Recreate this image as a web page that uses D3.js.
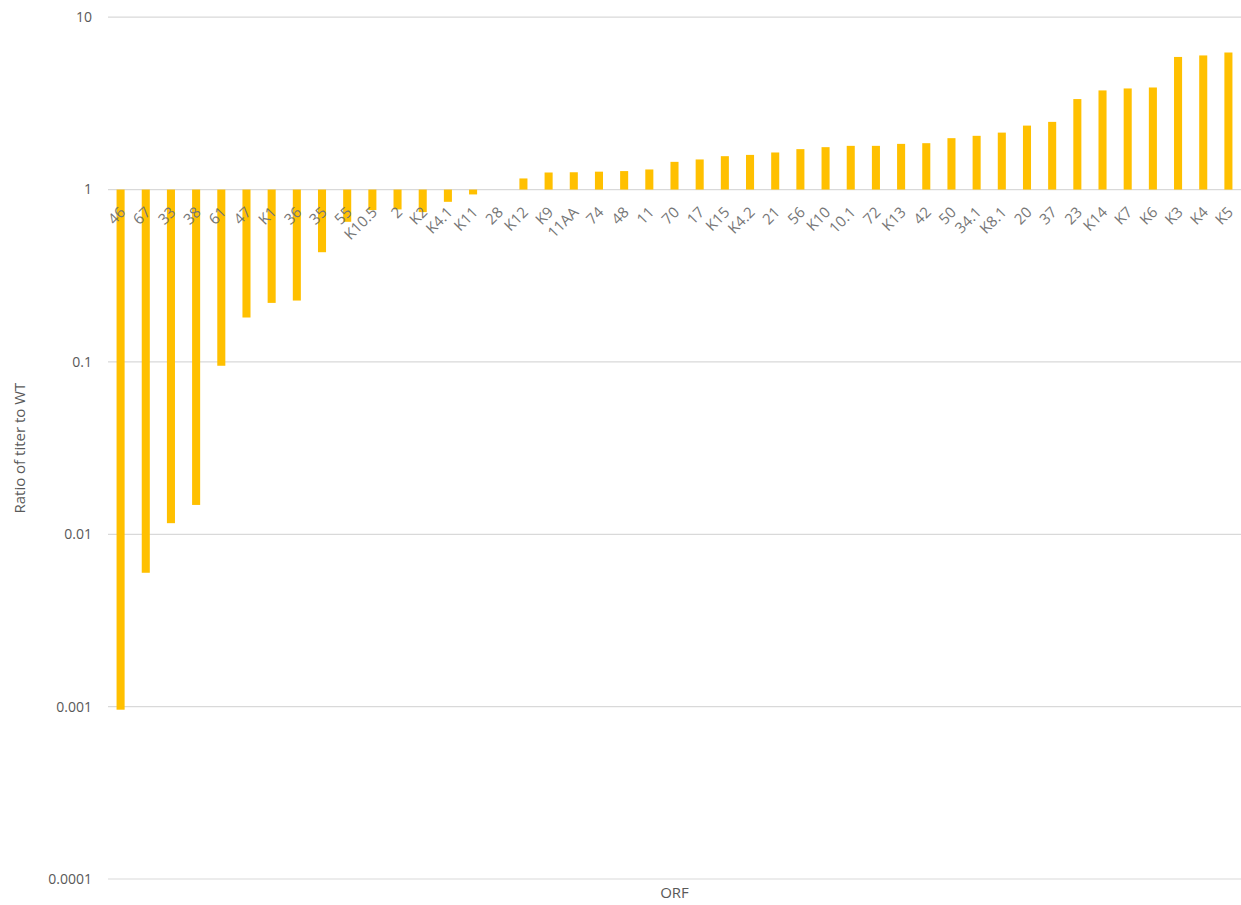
<!DOCTYPE html>
<html>
<head>
<meta charset="utf-8">
<script src="https://cdn.jsdelivr.net/npm/d3@7"></script>
<style>
  body { margin: 0; background: #fff; }
  .font { font-family: "Open Sans", "Liberation Sans", sans-serif; fill: #595959; }
  .tick-label { font-size: 14px; }
  .cat-label { font-size: 15px; fill: #767676; }
  .axis-title { font-size: 15px; }
</style>
</head>
<body>
<svg id="chart" width="1241" height="905"></svg>
<script>
// titer ratio to WT per ORF
const CATEGORIES = ["46", "67", "33", "38", "61", "47", "K1", "36", "35", "55",
    "K10.5", "2", "K2", "K4.1", "K11", "28", "K12", "K9", "11AA", "74",
    "48", "11", "70", "17", "K15", "K4.2", "21", "56", "K10", "10.1",
    "72", "K13", "42", "50", "34.1", "K8.1", "20", "37", "23", "K14",
    "K7", "K6", "K3", "K4", "K5"];
const RATIOS = [0.00096, 0.00598, 0.0116, 0.0148, 0.095, 0.181, 0.220, 0.227, 0.433, 0.65,
    0.76, 0.767, 0.74, 0.849, 0.937, 1.0, 1.16, 1.256, 1.26, 1.27,
    1.28, 1.308, 1.448, 1.495, 1.562, 1.589, 1.641, 1.716, 1.762, 1.793,
    1.793, 1.841, 1.858, 1.987, 2.05, 2.14, 2.35, 2.47, 3.35, 3.76,
    3.86, 3.91, 5.88, 6.0, 6.24];
const Y_TICKS = [0.0001, 0.001, 0.01, 0.1, 1, 10];
const Y_TICK_LABELS = ["0.0001", "0.001", "0.01", "0.1", "1", "10"];

const PLOT_LEFT = 108;
const PLOT_RIGHT = 1241;
const PLOT_TOP = 17.2;
const PLOT_BOTTOM = 879;
const BAR_COLOR = "#FFC000";
const GRID_COLOR = "#d9d9d9";
const BASE_VALUE = 1;

var svg = d3.select("#chart");

var xScale = d3.scaleBand()
    .domain(CATEGORIES)
    .range([PLOT_LEFT, PLOT_RIGHT])
    .paddingInner(0.68)
    .paddingOuter(0.34);

var yScale = d3.scaleLog()
    .domain([0.0001, 10])
    .range([PLOT_BOTTOM, PLOT_TOP]);

// gridlines
var grid = svg.append("g");
grid.selectAll("line")
    .data(Y_TICKS)
    .enter()
    .append("line")
    .attr("x1", PLOT_LEFT)
    .attr("x2", PLOT_RIGHT)
    .attr("y1", function(d) { return yScale(d); })
    .attr("y2", function(d) { return yScale(d); })
    .attr("stroke", GRID_COLOR)
    .attr("stroke-width", 1.2);

// y tick labels
svg.append("g")
    .selectAll("text")
    .data(Y_TICKS)
    .enter()
    .append("text")
    .attr("class", "font tick-label")
    .attr("x", 92)
    .attr("y", function(d) { return yScale(d); })
    .attr("dy", "0.35em")
    .attr("text-anchor", "end")
    .text(function(d, i) { return Y_TICK_LABELS[i]; });

// bars grow from the value 1 line
var bw = xScale.bandwidth();
svg.append("g")
    .selectAll("rect")
    .data(RATIOS)
    .enter()
    .append("rect")
    .attr("x", function(d, i) { return xScale(CATEGORIES[i]); })
    .attr("width", bw)
    .attr("y", function(d) { return Math.min(yScale(d), yScale(BASE_VALUE)); })
    .attr("height", function(d) { return Math.abs(yScale(d) - yScale(BASE_VALUE)); })
    .attr("fill", BAR_COLOR);

// category labels sit under the 1 line, rotated
var baseY = yScale(BASE_VALUE);
svg.append("g")
    .selectAll("text")
    .data(CATEGORIES)
    .enter()
    .append("text")
    .attr("class", "font cat-label")
    .attr("text-anchor", "end")
    .attr("dy", "0.35em")
    .attr("transform", function(d) {
        var cx = xScale(d) + bw / 2;
        return "translate(" + (cx + 2) + "," + (baseY + 20) + ") rotate(-45)";
    })
    .text(function(d) { return d; });

// axis titles
svg.append("text")
    .attr("class", "font axis-title")
    .attr("x", (PLOT_LEFT + PLOT_RIGHT) / 2)
    .attr("y", 898)
    .attr("text-anchor", "middle")
    .text("ORF");

svg.append("text")
    .attr("class", "font axis-title")
    .attr("transform", "translate(25," + ((PLOT_TOP + PLOT_BOTTOM) / 2) + ") rotate(-90)")
    .attr("text-anchor", "middle")
    .text("Ratio of titer to WT");
</script>
</body>
</html>
